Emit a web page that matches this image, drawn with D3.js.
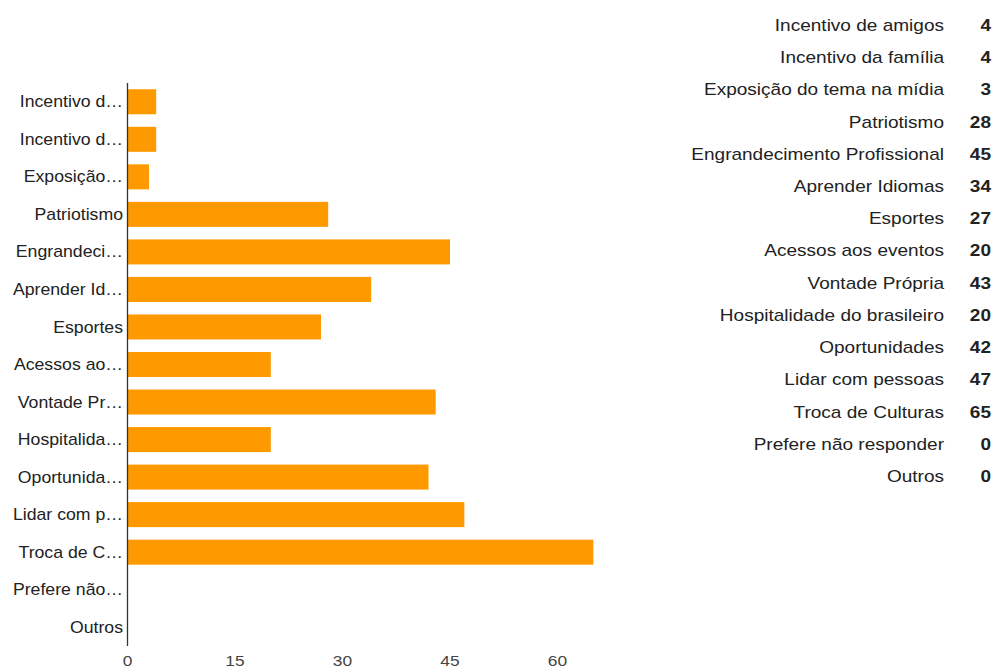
<!DOCTYPE html>
<html>
<head>
<meta charset="utf-8">
<script src="https://cdn.jsdelivr.net/npm/d3@7"></script>
<style>
  html, body { margin: 0; padding: 0; background: #fff; }
  svg { display: block; font-family: "Liberation Sans", Arial, sans-serif; }
</style>
</head>
<body>
<svg id="chart" width="995" height="670"></svg>
<script>
// Reasons given by respondents, with counts
const categories = [
  "Incentivo de amigos",
  "Incentivo da família",
  "Exposição do tema na mídia",
  "Patriotismo",
  "Engrandecimento Profissional",
  "Aprender Idiomas",
  "Esportes",
  "Acessos aos eventos",
  "Vontade Própria",
  "Hospitalidade do brasileiro",
  "Oportunidades",
  "Lidar com pessoas",
  "Troca de Culturas",
  "Prefere não responder",
  "Outros"
];
const counts = [4, 4, 3, 28, 45, 34, 27, 20, 43, 20, 42, 47, 65, 0, 0];
const xTicks = [0, 15, 30, 45, 60];

// Text is drawn slightly widened horizontally
const stretch = 1.12;

const svg = d3.select("#chart");

const x = d3.scaleLinear().domain([0, 60]).range([127.5, 557.5]);
const y = d3.scaleBand().domain(categories).range([83, 646]).paddingInner(1 / 3).paddingOuter(1 / 6);

// Bars
svg.append("g")
  .selectAll("rect")
  .data(categories)
  .join("rect")
  .attr("x", x(0))
  .attr("y", d => y(d))
  .attr("width", (d, i) => x(counts[i]) - x(0))
  .attr("height", y.bandwidth())
  .attr("fill", "#ff9900");

// Category labels, shortened with an ellipsis when too wide
const maxLabelWidth = 112 / stretch;
const yAxis = svg.append("g");
yAxis.selectAll("text")
  .data(categories)
  .join("text")
  .attr("transform", d => `translate(123,${y(d) + y.bandwidth() / 2}) scale(${stretch},1)`)
  .attr("dy", "0.35em")
  .attr("text-anchor", "end")
  .attr("font-size", 15.8)
  .attr("fill", "#222")
  .text(d => d)
  .each(function (d) {
    const el = this;
    if (el.getComputedTextLength() <= maxLabelWidth) return;
    let s = d;
    while (s.length > 1) {
      s = s.slice(0, -1);
      el.textContent = s.trimEnd() + "…";
      if (el.getComputedTextLength() <= maxLabelWidth) break;
    }
  });

// Vertical baseline
svg.append("line")
  .attr("x1", x(0)).attr("x2", x(0))
  .attr("y1", 83).attr("y2", 646)
  .attr("stroke", "#333")
  .attr("stroke-width", 1.3);

// Value axis tick labels
svg.append("g")
  .selectAll("text")
  .data(xTicks)
  .join("text")
  .attr("transform", d => `translate(${x(d)},666) scale(${stretch},1)`)
  .attr("text-anchor", "middle")
  .attr("font-size", 15.5)
  .attr("fill", "#444")
  .text(d => d);

// Summary table on the right
const rowY = d3.scalePoint().domain(categories).range([25, 476]);
const table = svg.append("g");
table.selectAll("text.name")
  .data(categories)
  .join("text")
  .attr("class", "name")
  .attr("transform", d => `translate(944,${rowY(d)}) scale(${stretch},1)`)
  .attr("dy", "0.35em")
  .attr("text-anchor", "end")
  .attr("font-size", 17)
  .attr("fill", "#222")
  .text(d => d);
table.selectAll("text.val")
  .data(categories)
  .join("text")
  .attr("class", "val")
  .attr("transform", d => `translate(991,${rowY(d)}) scale(${stretch},1)`)
  .attr("dy", "0.35em")
  .attr("text-anchor", "end")
  .attr("font-size", 17)
  .attr("font-weight", "bold")
  .attr("fill", "#222")
  .text((d, i) => counts[i]);
</script>
</body>
</html>
